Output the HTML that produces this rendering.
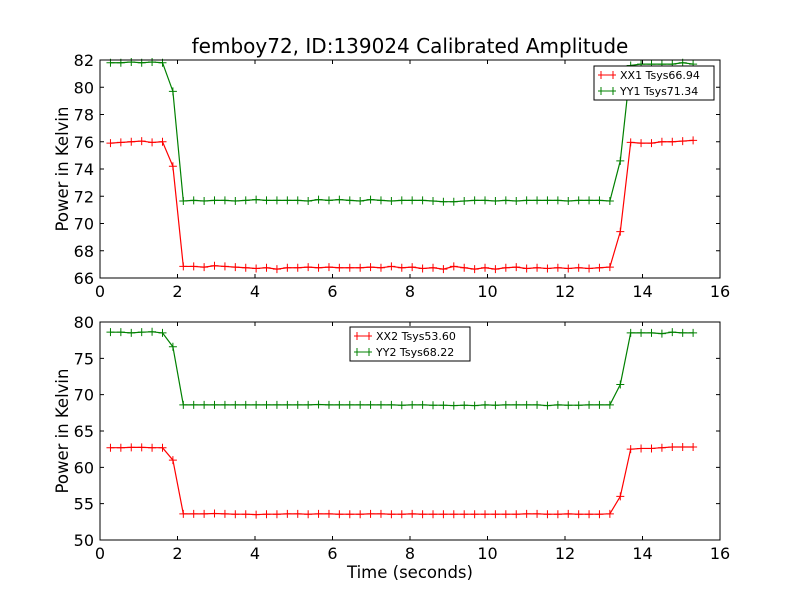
<!DOCTYPE html>
<html><head><meta charset="utf-8"><style>
body{margin:0;background:#fff;}
svg{display:block;font-family:"DejaVu Sans","Liberation Sans",sans-serif;}
</style></head><body>
<svg id="chart" width="800" height="600"></svg>
<script>
const times = [];
for (let i = 0; i < 57; i++) times.push(+(0.27 + 0.2685 * i).toFixed(3));
const xx1 = [75.9,75.95,76.0,76.05,75.95,76.0,74.2,
 66.85,66.85,66.8,66.9,66.85,66.8,66.75,66.7,66.75,66.65,66.75,66.75,66.8,66.75,66.8,66.75,66.75,66.75,66.8,66.75,66.85,66.75,66.8,66.7,66.75,66.65,66.85,66.75,66.65,66.75,66.65,66.75,66.8,66.7,66.75,66.7,66.75,66.7,66.75,66.7,66.75,66.8,
 69.4,75.95,75.9,75.9,76.0,76.0,76.05,76.1];
const yy1 = [81.8,81.8,81.85,81.8,81.85,81.8,79.7,
 71.65,71.7,71.65,71.7,71.7,71.65,71.7,71.75,71.7,71.7,71.7,71.7,71.65,71.75,71.7,71.75,71.7,71.65,71.75,71.7,71.65,71.7,71.7,71.7,71.65,71.6,71.6,71.65,71.7,71.7,71.65,71.7,71.65,71.7,71.7,71.7,71.7,71.65,71.7,71.7,71.7,71.65,
 74.6,81.6,81.7,81.7,81.7,81.7,81.8,81.7];
const xx2 = [62.7,62.7,62.75,62.75,62.7,62.7,61.0,
 53.6,53.6,53.6,53.65,53.6,53.55,53.55,53.5,53.55,53.55,53.6,53.6,53.55,53.6,53.6,53.55,53.55,53.55,53.6,53.6,53.55,53.55,53.6,53.55,53.55,53.55,53.55,53.55,53.55,53.55,53.55,53.55,53.55,53.6,53.6,53.55,53.55,53.6,53.55,53.55,53.55,53.6,
 56.0,62.5,62.6,62.6,62.7,62.8,62.8,62.8];
const yy2 = [78.6,78.6,78.5,78.6,78.65,78.5,76.6,
 68.6,68.6,68.6,68.6,68.6,68.6,68.6,68.6,68.6,68.6,68.6,68.6,68.6,68.65,68.6,68.6,68.6,68.6,68.6,68.6,68.6,68.55,68.6,68.6,68.55,68.55,68.5,68.55,68.5,68.6,68.55,68.6,68.6,68.6,68.6,68.5,68.6,68.55,68.55,68.6,68.6,68.6,
 71.4,78.5,78.5,78.5,78.4,78.6,78.5,78.5];
const xTicks = [0,2,4,6,8,10,12,14,16];
const yTicksTop = [66,68,70,72,74,76,78,80,82];
const yTicksBot = [50,55,60,65,70,75,80];

const svg = document.getElementById('chart');
const NS = 'http://www.w3.org/2000/svg';
function mk(tag, attrs, parent) {
  const e = document.createElementNS(NS, tag);
  for (const k in attrs) e.setAttribute(k, attrs[k]);
  (parent || svg).appendChild(e);
  return e;
}
const L = 100, R = 720;
const xs = v => L + (v - 0) / 16 * (R - L);

function panel(top, bottom, ymin, ymax, yTicks, s1, s2, n1, n2, legend, name) {
  const g = mk('g', {});
  
  
  const ys = v => bottom - (v - ymin) / (ymax - ymin) * (bottom - top);
  [[s1, '#ff0000', n1], [s2, '#008000', n2]].forEach(([arr, col, nm]) => {
    const pts = arr.map((v, i) => xs(times[i]).toFixed(2) + ',' + ys(v).toFixed(2)).join(' ');
    const pl = mk('polyline', {points: pts, fill: 'none', stroke: col, 'stroke-width': 1.2}, g);
    
    
    arr.forEach((v, i) => {
      const x = xs(times[i]), y = ys(v);
      const m = mk('path', {d: `M${x-4},${y}H${x+4}M${x},${y-4}V${y+4}`, stroke: col, 'stroke-width': 1}, g);
      
      
    });
  });
  const fr = mk('rect', {x: L, y: top, width: R - L, height: bottom - top, fill: 'none', stroke: '#000', 'stroke-width': 1}, g);
  
  
  xTicks.forEach(t => {
    const x = xs(t);
    mk('path', {d: `M${x},${bottom}v-4M${x},${top}v4`, stroke: '#000'}, g);
    const tx = mk('text', {x: x, y: bottom + 19, 'text-anchor': 'middle', 'font-size': 16}, g);
    tx.textContent = t;
    
    
  });
  yTicks.forEach(t => {
    const y = ys(t);
    mk('path', {d: `M${L},${y}h4M${R},${y}h-4`, stroke: '#000'}, g);
    const tx = mk('text', {x: L - 6, y: y + 6, 'text-anchor': 'end', 'font-size': 16}, g);
    tx.textContent = t;
    
    
  });
  const yl = mk('text', {x: 0, y: 0, 'text-anchor': 'middle', 'font-size': 16.5, transform: `translate(68,${(top+bottom)/2}) rotate(-90)`}, g);
  yl.textContent = 'Power in Kelvin';
  
  
  const lg = mk('g', {}, g);
  
  
  mk('rect', {x: legend.x, y: legend.y, width: legend.w, height: 34, fill: '#fff', stroke: '#000'}, lg);
  [[n1, legend.l1, '#ff0000', 9], [n2, legend.l2, '#008000', 25]].forEach(([nm, lab, col, dy]) => {
    const y = legend.y + dy;
    const x0 = legend.x + 4;
    mk('path', {d: `M${x0},${y}h18M${x0+3},${y-4}v8M${x0+15},${y-4}v8`, stroke: col, 'stroke-width': 1}, lg);
    const t = mk('text', {x: x0 + 22, y: y + 4, 'font-size': 11}, lg);
    t.textContent = lab;
    
    
  });
}
const title = mk('text', {x: 410, y: 53, 'text-anchor': 'middle', 'font-size': 20});
title.textContent = 'femboy72, ID:139024 Calibrated Amplitude';


panel(60, 278, 66, 82, yTicksTop, xx1, yy1, 'xx1', 'yy1', {x: 594, y: 66, w: 120, l1: 'XX1 Tsys66.94', l2: 'YY1 Tsys71.34'}, 'top-panel');
panel(322, 540, 50, 80, yTicksBot, xx2, yy2, 'xx2', 'yy2', {x: 350, y: 327, w: 120, l1: 'XX2 Tsys53.60', l2: 'YY2 Tsys68.22'}, 'bottom-panel');
const xl = mk('text', {x: 410, y: 578, 'text-anchor': 'middle', 'font-size': 16.5});
xl.textContent = 'Time (seconds)';


</script>
</body></html>
